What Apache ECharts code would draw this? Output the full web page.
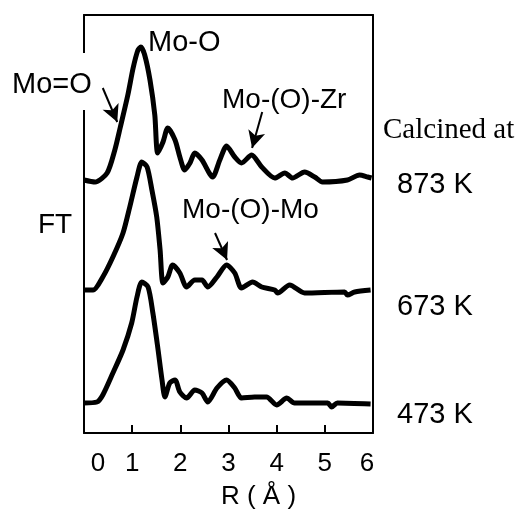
<!DOCTYPE html>
<html><head><meta charset="utf-8">
<script src="https://cdn.jsdelivr.net/npm/echarts@6/dist/echarts.min.js"></script>
<style>html,body{margin:0;padding:0;background:#fff}#c{width:517px;height:512px}</style>
</head><body><div id="c"></div>
<script>
// R (Å) and FT magnitude (arbitrary units, curves offset vertically)
var r873 = [0,0.23,0.48,0.64,0.75,0.91,1.02,1.12,1.18,1.26,1.37,1.47,1.53,1.64,1.74,1.89,1.99,2.09,2.20,2.30,2.45,2.67,2.82,2.96,3.13,3.27,3.48,3.69,3.96,4.17,4.33,4.58,4.79,4.95,5.47,5.72,5.89,5.97];
var ft873 = [253,251,260,283,305,338,365,383,386,378,353,318,280,291,305,293,276,263,270,280,273,256,273,287,276,270,278,266,255,260,255,261,256,251,253,258,256,255];
var r673 = [0,0.19,0.39,0.60,0.81,0.95,1.10,1.20,1.31,1.41,1.51,1.58,1.64,1.74,1.84,1.99,2.13,2.30,2.45,2.57,2.76,2.96,3.13,3.27,3.50,3.69,3.96,4.02,4.27,4.58,5.41,5.47,5.62,5.95];
var ft673 = [143,143,156,176,200,226,256,271,266,243,216,183,150,156,168,160,146,153,153,146,156,168,160,145,151,146,143,140,148,140,141,138,141,143];
var r473 = [0,0.27,0.39,0.60,0.81,0.99,1.10,1.20,1.33,1.43,1.53,1.62,1.68,1.78,1.89,1.99,2.13,2.30,2.45,2.57,2.76,2.96,3.13,3.27,3.54,3.79,4.00,4.21,4.37,5.06,5.14,5.26,5.95];
var ft473 = [30,31,38,60,83,110,136,151,146,120,86,53,36,50,53,41,35,43,40,31,45,53,45,35,36,36,28,35,30,30,26,30,29];
var xTicks = ['0','1','2','3','4','5','6'];
var tempLabels = ['873 K','673 K','473 K'];

function zip(a,b){ return a.map(function(v,i){ return [v,b[i]]; }); }
var FONT = '"Liberation Sans", Arial, sans-serif';
var lineStyle = {color:'#000', width:5};
var frameLine = {show:true, onZero:false, lineStyle:{color:'#000', width:2}};
function arrows(pairs){
  return {silent:true, symbol:['none','arrow'], symbolSize:[13,17], animation:false,
    label:{show:false}, lineStyle:{color:'#000', width:2, type:'solid'},
    emphasis:{disabled:true},
    data:pairs.map(function(p){ return [{coord:p[0]},{coord:p[1]}]; })};
}

var chart = echarts.init(document.getElementById('c'), null, {renderer:'canvas'});
chart.setOption({
  animation:false,
  backgroundColor:'#fff',
  grid:{left:84, right:144, top:15, bottom:79, containLabel:false, outerBoundsMode:'none'},
  xAxis:[{
    type:'value', min:0, max:6, interval:1, position:'bottom',
    axisLine:frameLine,
    axisTick:{show:true, inside:true, length:8, lineStyle:{color:'#000', width:2}},
    splitLine:{show:false},
    axisLabel:{show:true, margin:18, color:'#000', fontSize:26, fontFamily:FONT,
      formatter:function(v){ var s = xTicks[Math.round(v)]; if(v===0) return '{a|'+s+'}'; if(v===6) return '{b|'+s+'}'; return s; },
      rich:{a:{fontSize:26, fontFamily:FONT, color:'#000', padding:[0,0,0,28]},
            b:{fontSize:26, fontFamily:FONT, color:'#000', padding:[0,12,0,0]}}},
    name:'R ( Å )', nameLocation:'middle', nameGap:51,
    nameTextStyle:{color:'#000', fontSize:26, fontFamily:FONT, padding:[0,0,0,60]}
  },{
    type:'value', min:0, max:6, position:'top',
    axisLine:frameLine,
    axisTick:{show:false}, axisLabel:{show:false}, splitLine:{show:false}
  }],
  yAxis:[{
    type:'value', min:0, max:418, position:'left',
    axisLine:frameLine,
    axisTick:{show:false}, axisLabel:{show:false}, splitLine:{show:false}
  },{
    type:'value', min:0, max:418, position:'right',
    axisLine:frameLine,
    axisTick:{show:false}, axisLabel:{show:false}, splitLine:{show:false}
  }],
  series:[
    {type:'line', data:zip(r873,ft873), showSymbol:false, smooth:0.25, lineStyle:lineStyle, z:3,
     markLine:arrows([[[0.39,345],[0.69,311]],[[3.70,321],[3.49,285]]])},
    {type:'line', data:zip(r673,ft673), showSymbol:false, smooth:0.25, lineStyle:lineStyle, z:3,
     markLine:arrows([[[2.72,200],[2.97,173]]])},
    {type:'line', data:zip(r473,ft473), showSymbol:false, smooth:0.25, lineStyle:lineStyle, z:3}
  ],
  graphic:[
    {type:'rect', z:50, shape:{x:80, y:53, width:8, height:57}, style:{fill:'#fff'}, silent:true},
    {type:'text', z:60, left:12, top:70, style:{text:'Mo=O', fontSize:29, fontFamily:FONT, fill:'#000'}},
    {type:'text', z:60, left:148, top:28, style:{text:'Mo-O', fontSize:29, fontFamily:FONT, fill:'#000'}},
    {type:'text', z:60, left:222, top:86, style:{text:'Mo-(O)-Zr', fontSize:28, fontFamily:FONT, fill:'#000'}},
    {type:'text', z:60, left:182, top:196, style:{text:'Mo-(O)-Mo', fontSize:28, fontFamily:FONT, fill:'#000'}},
    {type:'text', z:60, left:38, top:211, style:{text:'FT', fontSize:28, fontFamily:FONT, fill:'#000'}},
    {type:'text', z:60, left:383, top:116, style:{text:'Calcined at', fontSize:29, fontFamily:'"Liberation Serif", "Times New Roman", serif', fill:'#000'}},
    {type:'text', z:60, left:397, top:170, style:{text:tempLabels[0], fontSize:29, fontFamily:FONT, fill:'#000'}},
    {type:'text', z:60, left:397, top:292, style:{text:tempLabels[1], fontSize:29, fontFamily:FONT, fill:'#000'}},
    {type:'text', z:60, left:397, top:400, style:{text:tempLabels[2], fontSize:29, fontFamily:FONT, fill:'#000'}}
  ]
});
</script></body></html>
